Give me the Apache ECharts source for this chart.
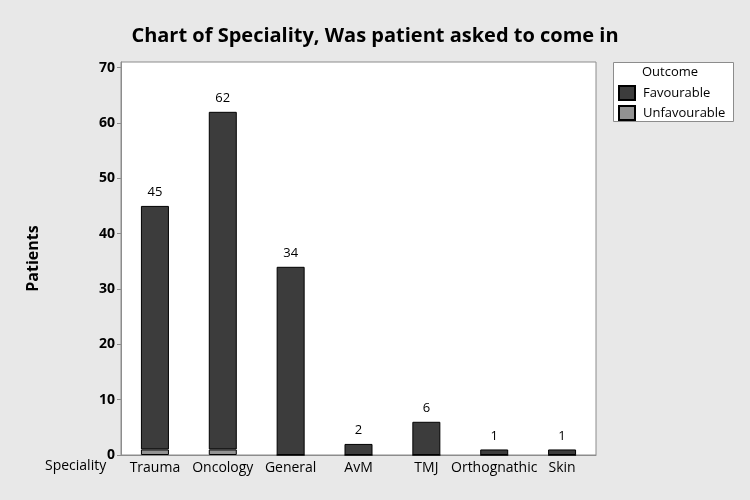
<!DOCTYPE html>
<html>
<head>
<meta charset="utf-8">
<script src="https://cdn.jsdelivr.net/npm/echarts@6/dist/echarts.min.js"></script>
<style>html,body{margin:0;padding:0;background:#e8e8e8;}#c{width:750px;height:500px;}</style>
</head>
<body>
<div id="c"></div>
<script>
var categories = ['Trauma', 'Oncology', 'General', 'AvM', 'TMJ', 'Orthognathic', 'Skin'];
var favourable = [44, 61, 34, 2, 6, 1, 1];
var unfavourable = [1, 1, 0, 0, 0, 0, 0];
var totals = [45, 62, 34, 2, 6, 1, 1];
var yTicks = [0, 10, 20, 30, 40, 50, 60, 70];

var FONT = '"Open Sans", "Noto Sans", sans-serif';
var chart = echarts.init(document.getElementById('c'));
chart.setOption({
  backgroundColor: '#e8e8e8',
  animation: false,
  title: {
    text: 'Chart of Speciality, Was patient asked to come in',
    left: 'center', top: 21,
    textStyle: {fontFamily: FONT, fontSize: 20, fontWeight: 'bold', color: '#000'}
  },
  grid: {left: 121, right: 154, top: 62, bottom: 45, show: true, backgroundColor: '#fff', borderColor: '#8c8c8c', borderWidth: 1},
  legend: {
    orient: 'vertical', left: 618, top: 85, padding: 0, itemWidth: 16, itemHeight: 14, itemGap: 4,
    icon: 'rect',
    data: ['Favourable', 'Unfavourable'],
    textStyle: {fontFamily: FONT, fontSize: 13, color: '#000', padding: [0, 0, 0, 3]}
  },
  graphic: [
    {type: 'rect', left: 613, top: 62, shape: {width: 120, height: 59}, style: {fill: '#fff', stroke: '#8c8c8c', lineWidth: 1}, z: -1},
    {type: 'text', left: 642, top: 66, style: {text: 'Outcome', fontFamily: FONT, fontSize: 13, fill: '#000'}},
    {type: 'text', left: 45, top: 459, style: {text: 'Speciality', fontFamily: FONT, fontSize: 14, fill: '#000'}}
  ],
  xAxis: {
    type: 'category', data: categories,
    axisLine: {lineStyle: {color: '#8c8c8c'}},
    axisTick: {alignWithLabel: true, length: 4, lineStyle: {color: '#8c8c8c'}},
    axisLabel: {fontFamily: FONT, fontSize: 14, color: '#000', margin: 6, interval: 0}
  },
  yAxis: {
    type: 'value', min: 0, max: 71, interval: 10,
    name: 'Patients', nameLocation: 'middle', nameGap: 80, nameRotate: 90,
    nameTextStyle: {fontFamily: FONT, fontSize: 16, fontWeight: 'bold', color: '#000'},
    splitLine: {show: false},
    axisLine: {show: true, lineStyle: {color: '#8c8c8c'}},
    axisTick: {show: true, length: 4, lineStyle: {color: '#8c8c8c'}},
    axisLabel: {fontFamily: FONT, fontSize: 14, fontWeight: 'bold', color: '#000', margin: 6, showMaxLabel: false,
      formatter: function (v) { return yTicks.indexOf(v) >= 0 ? String(v) : ''; }}
  },
  series: [
    {name: 'Unfavourable', type: 'bar', stack: 's', data: unfavourable, barWidth: 28,
      itemStyle: {color: '#929292', borderColor: '#000', borderWidth: 1}},
    {name: 'Favourable', type: 'bar', stack: 's', data: favourable, barWidth: 28,
      itemStyle: {color: '#3c3c3c', borderColor: '#000', borderWidth: 1},
      label: {show: true, position: 'top', distance: 7, fontFamily: FONT, fontSize: 13, color: '#000',
        formatter: function (p) { return String(totals[p.dataIndex]); }}}
  ]
});
</script>
</body>
</html>
